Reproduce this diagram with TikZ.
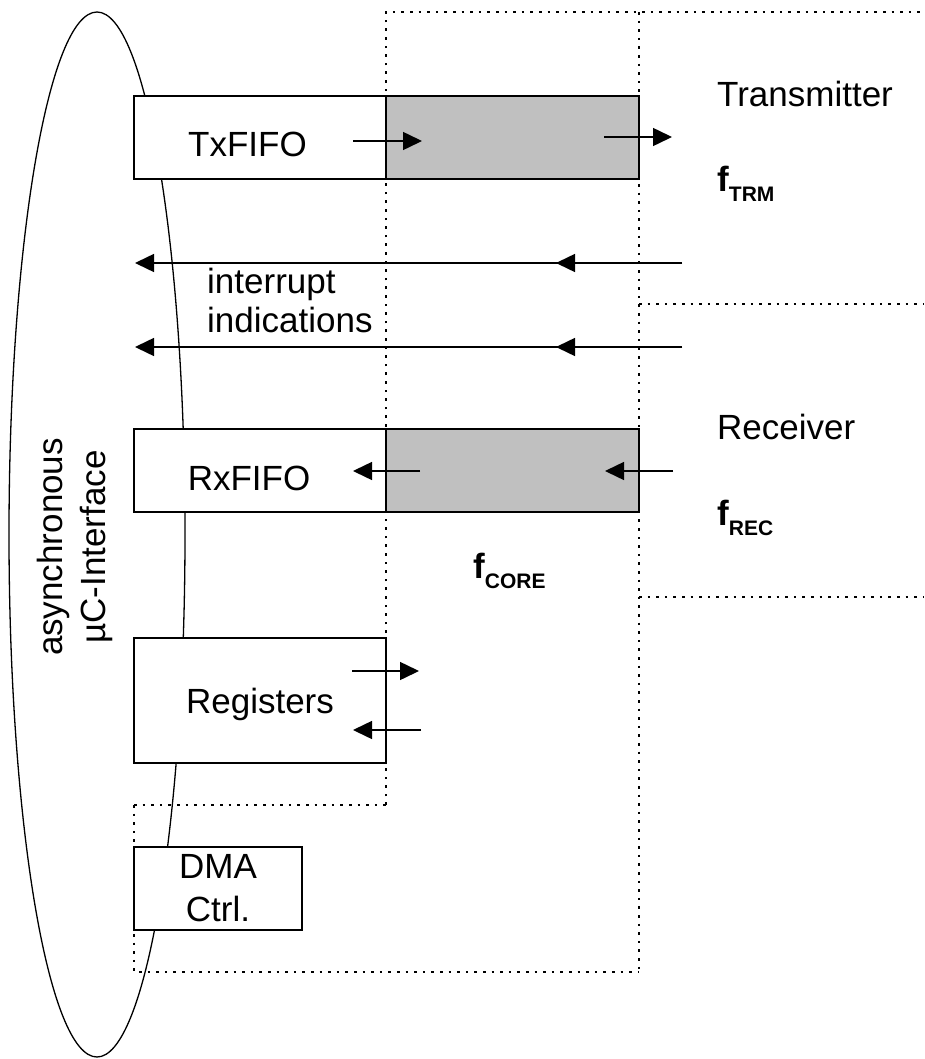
\documentclass[tikz,border=0pt]{standalone}
\usepackage{fontspec}
\setmainfont{Liberation Sans}
\usetikzlibrary{arrows.meta,shapes.geometric}
\definecolor{fifogrey}{RGB}{192,192,192}
\newcommand\freqlbl[1]{\textbf{f}\raisebox{-10pt}{\fontsize{21}{21}\selectfont\textbf{#1}}}
\begin{document}
\begin{tikzpicture}[x=1pt,y=-1pt,
  box/.style={draw, line width=1.5pt, fill=white, inner sep=0pt, outer sep=0pt, anchor=north west},
  greybox/.style={box, fill=fifogrey},
  lbl/.style={inner sep=0pt, font=\fontsize{35}{40}\selectfont},
  boundary/.style={line width=1.6pt, dash pattern=on 2.6pt off 6pt},
  sig/.style={line width=1.5pt, -{Triangle[length=19pt,width=18pt]}},
]
\useasboundingbox (0,0) rectangle (924,1059);
% interface ellipse
\node[draw, ellipse, line width=1.3pt, inner sep=0pt, minimum width=176pt, minimum height=1045pt] (iface) at (97,534.5) {};
\node[lbl, rotate=90, anchor=base] (async) at (62,547) {asynchronous};
\node[lbl, rotate=90, anchor=base] (uci) at (105,547) {µC-Interface};
% boxes
\node[box, minimum width=252pt, minimum height=83pt] (txfifo) at (134,96) {};
\node[greybox, minimum width=253pt, minimum height=83pt] (txcore) at (386,96) {};
\node[box, minimum width=252pt, minimum height=83pt] (rxfifo) at (134,429) {};
\node[greybox, minimum width=253pt, minimum height=83pt] (rxcore) at (386,429) {};
\node[box, minimum width=252pt, minimum height=125pt] (regs) at (134,638) {};
\node[box, minimum width=168pt, minimum height=83pt] (dma) at (134,847) {};
% labels
\node[lbl, anchor=base] (txl) at (247.5,157) {TxFIFO};
\node[lbl, anchor=base] (rxl) at (249,490) {RxFIFO};
\node[lbl, anchor=base] (regl) at (260,713) {Registers};
\node[lbl, anchor=base] (dmal) at (218,878) {DMA};
\node[lbl, anchor=base] (ctrll) at (218,921) {Ctrl.};
\node[lbl, anchor=base west] (trm) at (717,107) {Transmitter};
\node[lbl, anchor=base west] (rec) at (717,439) {Receiver};
\node[lbl, anchor=base west] (int1) at (207,293) {interrupt};
\node[lbl, anchor=base west] (int2) at (207,332) {indications};
\node[lbl, anchor=base west] (ftrm) at (717,192) {\freqlbl{TRM}};
\node[lbl, anchor=base west] (frec) at (717,525) {\freqlbl{REC}};
\node[lbl, anchor=base west] (fcore) at (473,578) {\freqlbl{CORE}};
% clock domain boundaries
\coordinate (c1) at (386,12);
\coordinate (c2) at (639,12);
\coordinate (c3) at (924,12);
\coordinate (c4) at (386,805);
\coordinate (c5) at (134,805);
\coordinate (c6) at (134,972);
\coordinate (c7) at (639,972);
\draw[boundary] (c4) -- (c1) -- (c3);
\draw[boundary] (c2) -- (c7);
\draw[boundary] (c5) -- (c4);
\draw[boundary] (c5) -- (c6) -- (c7);
\draw[boundary] (639,304) -- (924,304);
\draw[boundary] (639,597) -- (924,597);
% signal arrows
\coordinate (txa1) at (353,141); \coordinate (txa2) at (422,141);
\coordinate (txb1) at (604,137); \coordinate (txb2) at (672,137);
\draw[sig] (txa1) -- (txa2);
\draw[sig] (txb1) -- (txb2);
\coordinate (i1r) at (682,263); \coordinate (i1m) at (556,263); \coordinate (i1l) at (135,263);
\coordinate (i2r) at (682,347); \coordinate (i2m) at (556,347); \coordinate (i2l) at (135,347);
\draw[sig] (i1r) -- (i1l);
\draw[sig] (i1r) -- (i1m);
\draw[sig] (i2r) -- (i2l);
\draw[sig] (i2r) -- (i2m);
\coordinate (rxa1) at (420,471); \coordinate (rxa2) at (353,471);
\coordinate (rxb1) at (673,471); \coordinate (rxb2) at (605,471);
\draw[sig] (rxa1) -- (rxa2);
\draw[sig] (rxb1) -- (rxb2);
\coordinate (ra1) at (352,671); \coordinate (ra2) at (419,671);
\coordinate (rb1) at (421,730); \coordinate (rb2) at (353,730);
\draw[sig] (ra1) -- (ra2);
\draw[sig] (rb1) -- (rb2);
\end{tikzpicture}
\end{document}
